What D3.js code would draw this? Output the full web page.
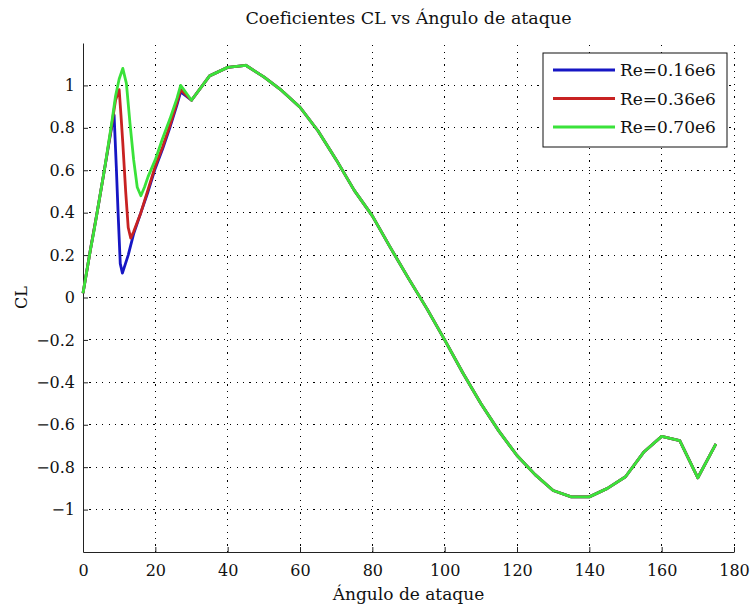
<!DOCTYPE html>
<html lang="es">
<head>
    <meta charset="UTF-8">
    <title>Coeficientes CL</title>
    <style>
        body{margin:0;background:#fff;}
        svg{display:block;}
        text{font-family:"DejaVu Serif",serif;fill:#111;}
    </style>
    <script src="https://d3js.org/d3.v7.min.js"></script>
</head>
<body>
<script>
    // values
    const angleLow  = [0, 2, 4, 6, 8, 8.6, 9.2, 9.7, 10.3, 10.9, 12.5, 14, 16, 18, 20, 22, 24, 26, 27]
    const clLow     = [0.02, 0.22, 0.41, 0.61, 0.81, 0.86, 0.62, 0.4, 0.16, 0.115, 0.2, 0.3, 0.4, 0.5, 0.61, 0.7, 0.8, 0.91, 0.97]

    const angleMid  = [0, 2, 4, 6, 8, 9, 10, 10.5, 11, 11.8, 12.5, 13.2, 14, 16, 18, 20, 22, 24, 26, 27]
    const clMid     = [0.02, 0.22, 0.41, 0.61, 0.82, 0.93, 0.98, 0.86, 0.73, 0.5, 0.33, 0.28, 0.31, 0.4, 0.51, 0.62, 0.71, 0.81, 0.92, 0.98]

    const angleHigh = [0, 1, 2, 3, 4, 5, 6, 7, 8, 9, 10, 11, 12, 13, 14, 15, 16, 17, 18, 20, 22, 24, 26, 27]
    const clHigh    = [0.02, 0.12, 0.22, 0.31, 0.41, 0.51, 0.61, 0.72, 0.83, 0.95, 1.03, 1.08, 1.01, 0.82, 0.65, 0.52, 0.48, 0.52, 0.57, 0.65, 0.75, 0.84, 0.94, 1.0]

    // post-stall part, the three curves lie on top of each other here
    const angleTail = [30, 35, 40, 45, 50, 55, 60, 65, 70, 75, 80, 85, 90, 95, 100, 105, 110, 115, 120, 125, 130, 135, 140, 145, 150, 155, 160, 165, 170, 175]
    const clTail    = [0.93, 1.045, 1.085, 1.095, 1.04, 0.975, 0.897, 0.785, 0.65, 0.505, 0.385, 0.235, 0.09, -0.05, -0.2, -0.355, -0.5, -0.63, -0.745, -0.835, -0.91, -0.94, -0.94, -0.9, -0.845, -0.73, -0.655, -0.675, -0.85, -0.69]

    const seriesNames = ["Re=0.16e6", "Re=0.36e6", "Re=0.70e6"]
    const seriesColors = ["#1616c4", "#c82222", "#3ae23a"]

    const xTicks = [0, 20, 40, 60, 80, 100, 120, 140, 160, 180]
    const yTicks = [-1, -0.8, -0.6, -0.4, -0.2, 0, 0.2, 0.4, 0.6, 0.8, 1]

    const width = 751
    const height = 611
    const margin = {left: 83, right: 17, top: 43, bottom: 59}

    const toPoints = (a, c) => a.map((d, i) => ({x: d, y: c[i]}))
    const tail = toPoints(angleTail, clTail)
    const series = [
        toPoints(angleLow, clLow).concat(tail),
        toPoints(angleMid, clMid).concat(tail),
        toPoints(angleHigh, clHigh).concat(tail)
    ]

    let svg = d3.select("body").append("svg")
        .attr("width", width)
        .attr("height", height)

    let x = d3.scaleLinear().domain([0, 180]).range([margin.left, width - margin.right])
    let y = d3.scaleLinear().domain([-1.2, 1.2]).range([height - margin.bottom, margin.top])

    // dotted grid
    let grid = svg.append("g")
    grid.selectAll(".gx")
        .data(xTicks.filter(d => d > 0))
        .enter()
        .append("line")
        .attr("x1", d => x(d)).attr("x2", d => x(d))
        .attr("y1", y(-1.2)).attr("y2", y(1.2))
    grid.selectAll(".gy")
        .data(yTicks)
        .enter()
        .append("line")
        .attr("x1", x(0)).attr("x2", x(180))
        .attr("y1", d => y(d)).attr("y2", d => y(d))
    grid.selectAll("line")
        .attr("stroke", "#000")
        .attr("stroke-width", 1)
        .attr("stroke-dasharray", "1.2,5.2")
        .attr("shape-rendering", "crispEdges")

    // axes, ticks inside
    let xAxis = svg.append("g")
        .attr("transform", `translate(0,${y(-1.2)})`)
        .call(d3.axisBottom(x).tickValues(xTicks).tickSizeInner(-5).tickSizeOuter(0).tickPadding(13))
    let yAxis = svg.append("g")
        .attr("transform", `translate(${x(0)},0)`)
        .call(d3.axisLeft(y).tickValues(yTicks).tickSizeInner(-5).tickSizeOuter(0).tickPadding(8).tickFormat(d3.format("")))
    svg.selectAll(".domain").attr("stroke", "#222")
    svg.selectAll(".tick line").attr("stroke", "#222")
    svg.selectAll(".tick text")
        .attr("font-family", "DejaVu Serif")
        .attr("font-size", 16)
        .attr("fill", "#111")

    // curves
    let line = d3.line().x(d => x(d.x)).y(d => y(d.y))
    svg.append("g").selectAll("path")
        .data(series)
        .enter()
        .append("path")
        .attr("d", line)
        .attr("fill", "none")
        .attr("stroke", (d, i) => seriesColors[i])
        .attr("stroke-width", 2.8)
        .attr("stroke-linejoin", "round")

    // titles
    svg.append("text")
        .attr("x", (x(0) + x(180)) / 2).attr("y", 24)
        .attr("text-anchor", "middle")
        .attr("font-size", 17.5)
        .text("Coeficientes CL vs Ángulo de ataque")
    svg.append("text")
        .attr("x", (x(0) + x(180)) / 2).attr("y", 600)
        .attr("text-anchor", "middle")
        .attr("font-size", 17)
        .text("Ángulo de ataque")
    svg.append("text")
        .attr("transform", `translate(27,${y(0)}) rotate(-90)`)
        .attr("text-anchor", "middle")
        .attr("font-size", 16)
        .text("CL")

    // legend
    let legend = svg.append("g").attr("transform", "translate(543,53)")
    legend.append("rect")
        .attr("width", 184).attr("height", 94)
        .attr("fill", "#fff")
        .attr("stroke", "#111")
        .attr("stroke-width", 1)
    let items = legend.selectAll(".item")
        .data(seriesNames)
        .enter()
        .append("g")
        .attr("transform", (d, i) => `translate(0,${17 + i * 28.5})`)
    items.append("line")
        .attr("x1", 10).attr("x2", 72)
        .attr("stroke", (d, i) => seriesColors[i])
        .attr("stroke-width", 2.8)
    items.append("text")
        .attr("x", 77).attr("y", 6)
        .attr("font-size", 17)
        .text(d => d)
</script>
</body>
</html>
